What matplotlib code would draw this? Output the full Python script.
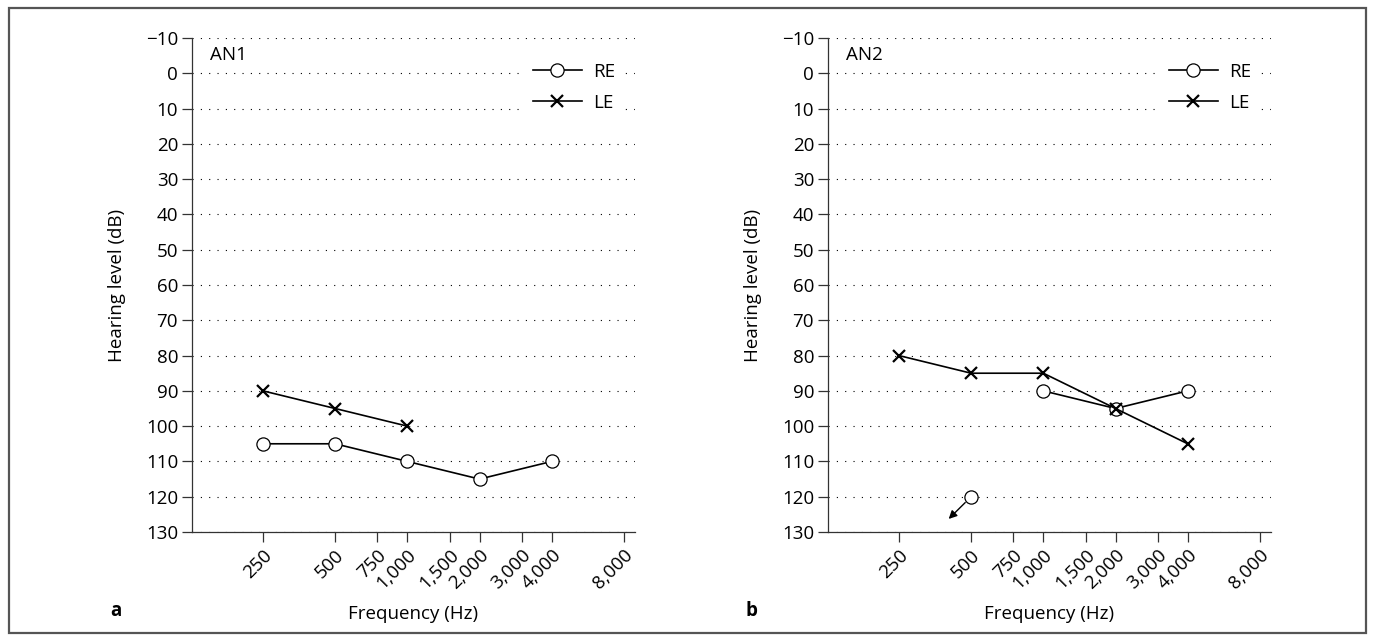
import matplotlib
matplotlib.use("Agg")
import matplotlib.pyplot as plt
from matplotlib.patches import Rectangle
from matplotlib.lines import Line2D

plt.rcParams['font.family'] = ['Open Sans', 'DejaVu Sans']
plt.rcParams['font.size'] = 13.5

# audiogram values (dB HL)
freq_ticks = [250, 500, 750, 1000, 1500, 2000, 3000, 4000, 8000]
freq_labels = ['250', '500', '750', '1,000', '1,500', '2,000', '3,000', '4,000', '8,000']
level_ticks = list(range(-10, 131, 10))

an1_re_freq = [250, 500, 1000, 2000, 4000]
an1_re_db = [105, 105, 110, 115, 110]
an1_le_freq = [250, 500, 1000]
an1_le_db = [90, 95, 100]

an2_re_freq = [1000, 2000, 4000]
an2_re_db = [90, 95, 90]
an2_re_noresp_freq = [500]
an2_re_noresp_db = [120]
an2_le_freq = [250, 500, 1000, 2000, 4000]
an2_le_db = [80, 85, 85, 95, 105]

W, H = 1375, 640
fig = plt.figure(figsize=(W / 100, H / 100), dpi=100)

# outer frame
fig.patches.append(Rectangle((9 / W, (H - 633) / H), (1366 - 9) / W, (633 - 8) / H,
                             transform=fig.transFigure, fill=False,
                             edgecolor='#555555', lw=1.6))

ax1 = fig.add_axes([192 / W, (H - 532) / H, 443 / W, 494 / H])
ax2 = fig.add_axes([828 / W, (H - 532) / H, 443 / W, 494 / H])

re_style = dict(color='black', lw=1.2, marker='o', ms=9.5, mfc='white', mec='black', mew=0.9)
le_style = dict(color='black', lw=1.2, marker='x', ms=9, mec='black', mew=1.6)


def setup(ax, name):
    ax.set_xscale('log')
    ax.set_xlim(126.5, 8900)
    ax.set_ylim(130, -10)
    ax.minorticks_off()
    ax.set_xticks(freq_ticks)
    ax.set_xticklabels(freq_labels, rotation=45, ha='right', va='top', rotation_mode='anchor')
    ax.set_yticks(level_ticks)
    ax.set_yticklabels([str(v).replace('-', '\u2212') for v in level_ticks])
    ax.tick_params(axis='both', direction='out', length=7, width=0.9, color='#333333')
    ax.tick_params(axis='x', pad=3)
    ax.tick_params(axis='y', pad=3)
    for s in ['top', 'right']:
        ax.spines[s].set_visible(False)
    for s in ['left', 'bottom']:
        ax.spines[s].set_linewidth(0.9)
        ax.spines[s].set_color('#333333')
    for v in level_ticks:
        ax.axhline(v, color='black', lw=0.8, ls=(0, (1, 6.5)), zorder=0)
    ax.set_xlabel('Frequency (Hz)', labelpad=9)
    ax.set_ylabel('Hearing level (dB)', labelpad=14)
    ax.text(0.04, 0.965, name, transform=ax.transAxes, va='center', ha='left')
    handles = [Line2D([], [], **re_style), Line2D([], [], **le_style)]
    leg = ax.legend(handles, ['RE', 'LE'], loc='center', bbox_to_anchor=(0.862, 0.9),
                    frameon=True, facecolor='white', edgecolor='none', framealpha=1,
                    handlelength=2.6, handletextpad=0.6, labelspacing=0.68,
                    borderpad=0.4, fancybox=False)
    leg.set_zorder(5)


setup(ax1, 'AN1')
ax1.plot(an1_re_freq, an1_re_db, **re_style)
ax1.plot(an1_le_freq, an1_le_db, **le_style)

setup(ax2, 'AN2')
ax2.plot(an2_re_freq, an2_re_db, **re_style)
ax2.plot(an2_le_freq, an2_le_db, **le_style)
ax2.plot(an2_re_noresp_freq, an2_re_noresp_db, ls='none', marker='o', ms=9.5,
         mfc='white', mec='black', mew=0.9)
ax2.annotate('', xy=(403, 126.3), xytext=(an2_re_noresp_freq[0], an2_re_noresp_db[0]),
             arrowprops=dict(arrowstyle='-|>', color='black', lw=1.0, shrinkA=6, shrinkB=0,
                             mutation_scale=12))

fig.text(110 / W, (H - 611) / H, 'a', fontweight='bold', ha='left', va='center')
fig.text(745 / W, (H - 611) / H, 'b', fontweight='bold', ha='left', va='center')

fig.savefig('out.png', dpi=100)
